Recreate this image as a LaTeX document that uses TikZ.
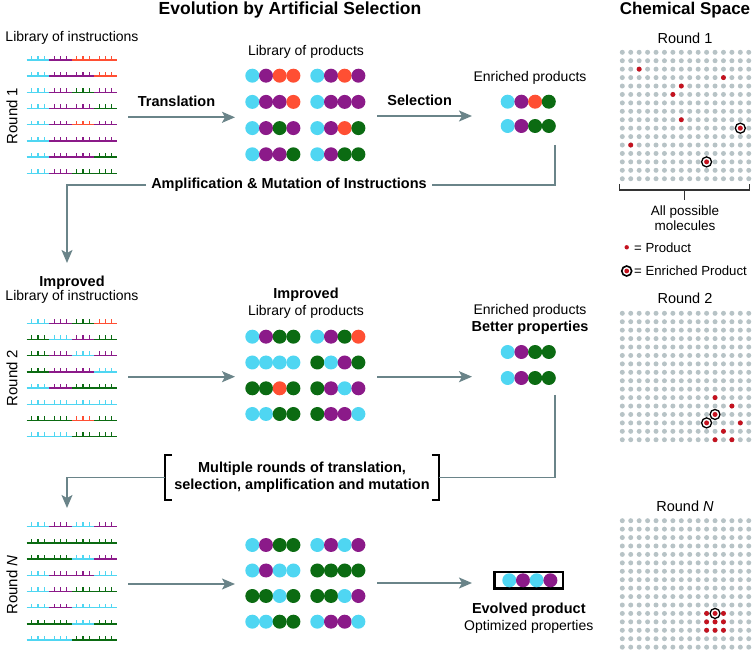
\documentclass[tikz,border=0pt]{standalone}
\usepackage{fontspec}
\setmainfont{Liberation Sans}
\usetikzlibrary{arrows.meta}

\definecolor{cy}{HTML}{4FD6F2}
\definecolor{pu}{HTML}{8B1A89}
\definecolor{rd}{HTML}{FF4F33}
\definecolor{gr}{HTML}{0B6B12}
\definecolor{flowgrey}{HTML}{6A8489}
\definecolor{molgrey}{HTML}{B7C3C6}
\definecolor{hitred}{HTML}{C4121F}

\tikzset{
  strandline/.style={line width=1.4pt},
  flow/.style={draw=flowgrey,line width=1.8pt,-{Stealth[length=13pt,width=11pt,inset=3pt]}},
  link/.style={draw=flowgrey,line width=1.8pt},
  head/.style={font=\fontsize{17.5}{20}\selectfont\bfseries,inner sep=1pt},
  lbl/.style={font=\fontsize{14}{16}\selectfont,inner sep=1pt},
  blbl/.style={font=\fontsize{14.5}{17}\selectfont\bfseries,inner sep=1pt},
  slbl/.style={font=\fontsize{13.2}{15.5}\selectfont,inner sep=1pt},
  rlbl/.style={font=\fontsize{15}{18}\selectfont,inner sep=1pt,rotate=90},
  brk/.style={draw=black,line width=1.8pt},
  gbrk/.style={draw=black!80,line width=1.5pt},
  ring/.style={fill=white,draw=black,line width=1.3pt},
  evobox/.style={draw=black,line width=2.6pt,minimum width=68.5pt,minimum height=16.5pt,inner sep=0pt}
}

% one instruction strand: y, four colours
\newcommand{\instr}[2]{%
  \foreach \sc [count=\k from 0] in {#2} {
    \draw[strandline,color=\sc] (26.7+22.5*\k,#1) -- ++(22.5,0);
    \foreach \t in {5,11.25,17.5}
      \draw[strandline,color=\sc] (26.7+22.5*\k+\t,#1) -- ++(0,-4.2);
  }}
% one product: x of first bead, y, four colours
\newcommand{\beads}[3]{%
  \foreach \bc [count=\k from 0] in {#3}
    \fill[color=\bc] (#1+13.7*\k,#2) circle (7pt);}
% chemical space
\newcommand{\chemgrid}[1]{%
  \foreach \gi in {0,...,15}
    \foreach \gj in {0,...,15}
      \fill[molgrey] (622.3+8.43*\gi,#1+8.43*\gj) circle (2.5pt);}
\newcommand{\hit}[3]{\fill[hitred] (622.3+8.43*#2,#1+8.43*#3) circle (2.5pt);}
\newcommand{\enr}[3]{\draw[ring] (622.3+8.43*#2,#1+8.43*#3) circle (5pt);\hit{#1}{#2}{#3}}

\begin{document}
\begin{tikzpicture}[x=1pt,y=-1pt]
\useasboundingbox (0,0) rectangle (756,652);

\node[head] (evotitle) at (290,10) {Evolution by Artificial Selection};
\node[head,font=\fontsize{17}{20}\selectfont\bfseries] (chemtitle) at (685,10) {Chemical Space};

% ---- round 1
\node[rlbl] (round1) at (12,116) {Round 1};
\node[lbl] (lib1) at (72,38.3) {Library of instructions};
\instr{60}{cy,pu,rd,rd}
\instr{76.2}{cy,pu,pu,rd}
\instr{92.4}{cy,pu,gr,pu}
\instr{108.6}{cy,pu,pu,gr}
\instr{124.8}{cy,pu,rd,pu}
\instr{141}{cy,pu,pu,pu}
\instr{157.2}{cy,pu,pu,gr}
\instr{173.4}{cy,pu,gr,gr}

\node[lbl] (prodlib1) at (306,51.7) {Library of products};
\beads{252.3}{75.7}{cy,pu,rd,rd}
\beads{252.3}{101.9}{cy,pu,pu,rd}
\beads{252.3}{128.1}{cy,pu,gr,pu}
\beads{252.3}{154.3}{cy,pu,pu,gr}
\beads{317.3}{75.7}{cy,pu,rd,pu}
\beads{317.3}{101.9}{cy,pu,pu,pu}
\beads{317.3}{128.1}{cy,pu,rd,gr}
\beads{317.3}{154.3}{cy,pu,gr,gr}

\node[lbl] (enr1) at (530,78.3) {Enriched products};
\beads{507.7}{101.7}{cy,pu,rd,gr}
\beads{507.7}{126}{cy,pu,gr,gr}

\coordinate (tr1a) at (128,117.3);
\coordinate (tr1b) at (235,117.3);
\draw[flow] (tr1a) -- (tr1b);
\node[blbl] (trans1) at (176.5,101) {Translation};
\coordinate (sel1a) at (377,116);
\coordinate (sel1b) at (472,116);
\draw[flow] (sel1a) -- (sel1b);
\node[blbl] (select1) at (419.7,100.7) {Selection};

% feedback 1
\coordinate (up1) at (555,145);
\coordinate (down1) at (67,263);
\node[blbl,inner xsep=5pt] (amp) at (289,185) {Amplification \& Mutation of Instructions};
\draw[link] (up1) |- (amp.east);
\draw[flow] (amp.west) -| (down1);

% ---- round 2
\node[rlbl] (round2) at (12,378) {Round 2};
\node[blbl] (imp2) at (72,282.7) {Improved};
\node[lbl] (lib2) at (72,297.3) {Library of instructions};
\instr{323.3}{cy,pu,gr,rd}
\instr{339.5}{gr,cy,pu,gr}
\instr{355.7}{gr,pu,cy,pu}
\instr{371.9}{gr,pu,pu,cy}
\instr{388.1}{cy,pu,gr,gr}
\instr{404.3}{cy,cy,cy,cy}
\instr{420.5}{gr,gr,rd,gr}
\instr{436.7}{cy,cy,gr,gr}

\node[blbl] (imp2p) at (306,295) {Improved};
\node[lbl] (prodlib2) at (306,311.7) {Library of products};
\beads{252.3}{336.7}{cy,pu,gr,gr}
\beads{252.3}{362.5}{cy,cy,cy,cy}
\beads{252.3}{388.3}{gr,gr,rd,gr}
\beads{252.3}{414}{cy,cy,gr,gr}
\beads{317.3}{336.7}{cy,pu,gr,rd}
\beads{317.3}{362.5}{gr,cy,pu,gr}
\beads{317.3}{388.3}{gr,pu,cy,pu}
\beads{317.3}{414}{gr,pu,pu,cy}

\node[lbl] (enr2) at (530,311) {Enriched products};
\node[blbl] (better2) at (530,328) {Better properties};
\beads{507.7}{352}{cy,pu,gr,gr}
\beads{507.7}{378}{cy,pu,gr,gr}

\coordinate (tr2a) at (128,376.7);
\coordinate (tr2b) at (235,376.7);
\draw[flow] (tr2a) -- (tr2b);
\coordinate (sel2a) at (377,376.7);
\coordinate (sel2b) at (472,376.7);
\draw[flow] (sel2a) -- (sel2b);

% feedback 2
\coordinate (up2) at (555,395);
\coordinate (down2) at (67,508);
\node[blbl,align=center,inner xsep=9pt,inner ysep=7pt] (multi) at (302,477.5)
  {Multiple rounds of translation,\\selection, amplification and mutation};
\draw[brk] ([xshift=7pt]multi.north west) -- (multi.north west) -- (multi.south west) -- ([xshift=7pt]multi.south west);
\draw[brk] ([xshift=-7pt]multi.north east) -- (multi.north east) -- (multi.south east) -- ([xshift=-7pt]multi.south east);
\draw[link] (up2) |- (multi.east);
\draw[flow] (multi.west) -| (down2);

% ---- round N
\node[rlbl] (roundN) at (12,585) {Round \textit{N}};
\instr{526.7}{cy,pu,cy,pu}
\instr{542.9}{gr,gr,gr,gr}
\instr{559.1}{gr,gr,cy,pu}
\instr{575.3}{cy,pu,pu,cy}
\instr{591.5}{cy,pu,gr,gr}
\instr{607.7}{cy,pu,cy,cy}
\instr{623.9}{gr,gr,cy,gr}
\instr{640.1}{cy,cy,gr,gr}

\beads{252.3}{545}{cy,pu,gr,gr}
\beads{252.3}{570.5}{cy,pu,cy,cy}
\beads{252.3}{596}{gr,gr,cy,gr}
\beads{252.3}{621.7}{cy,cy,gr,gr}
\beads{317.3}{545}{cy,pu,cy,pu}
\beads{317.3}{570.5}{gr,gr,gr,gr}
\beads{317.3}{596}{gr,gr,cy,pu}
\beads{317.3}{621.7}{cy,pu,pu,cy}

\coordinate (trNa) at (128,584);
\coordinate (trNb) at (235,584);
\draw[flow] (trNa) -- (trNb);
\coordinate (selNa) at (377,583);
\coordinate (selNb) at (472,583);
\draw[flow] (selNa) -- (selNb);

\node[evobox] (evolved) at (528.8,580.3) {};
\beads{509.3}{580.3}{cy,pu,cy,pu}
\node[blbl] (evotext) at (528.8,610) {Evolved product};
\node[lbl] (opttext) at (528.8,627) {Optimized properties};

% ---- chemical space
\node[lbl,font=\fontsize{14.5}{17}\selectfont] (cs1) at (685,38.3) {Round 1};
\chemgrid{52.3}
\hit{52.3}{2}{2} \hit{52.3}{12}{3} \hit{52.3}{7}{4} \hit{52.3}{6}{5}
\hit{52.3}{7}{8} \hit{52.3}{1}{11}
\enr{52.3}{14}{9} \enr{52.3}{10}{13}

\draw[gbrk] (619.3,184) |- (749.3,190) -- (749.3,184);
\draw[gbrk] (684.3,190) -- (684.3,200);
\node[slbl,align=center,font=\fontsize{13.5}{15.5}\selectfont] (allmol) at (685,218) {All possible\\molecules};

\fill[hitred] (626.7,247.3) circle (2.2pt);
\node[slbl,anchor=west] (legprod) at (633,247.3) {= Product};
\draw[ring,line width=1.6pt] (626.7,271) circle (5pt);
\fill[hitred] (626.7,271) circle (2.4pt);
\node[slbl,anchor=west] (legenr) at (633,271) {= Enriched Product};

\node[lbl,font=\fontsize{14.5}{17}\selectfont] (cs2) at (685,298.3) {Round 2};
\chemgrid{313.3}
\hit{313.3}{11}{10} \hit{313.3}{13}{11} \hit{313.3}{14}{13}
\hit{313.3}{12}{14} \hit{313.3}{11}{15} \hit{313.3}{13}{15}
\enr{313.3}{11}{12} \enr{313.3}{10}{13}

\node[lbl,font=\fontsize{14.5}{17}\selectfont] (csN) at (685,506.7) {Round \textit{N}};
\chemgrid{520.7}
\hit{520.7}{10}{11} \hit{520.7}{12}{11}
\hit{520.7}{10}{12} \hit{520.7}{11}{12} \hit{520.7}{12}{12}
\hit{520.7}{10}{13} \hit{520.7}{11}{13} \hit{520.7}{12}{13}
\enr{520.7}{11}{11}
\end{tikzpicture}
\end{document}
